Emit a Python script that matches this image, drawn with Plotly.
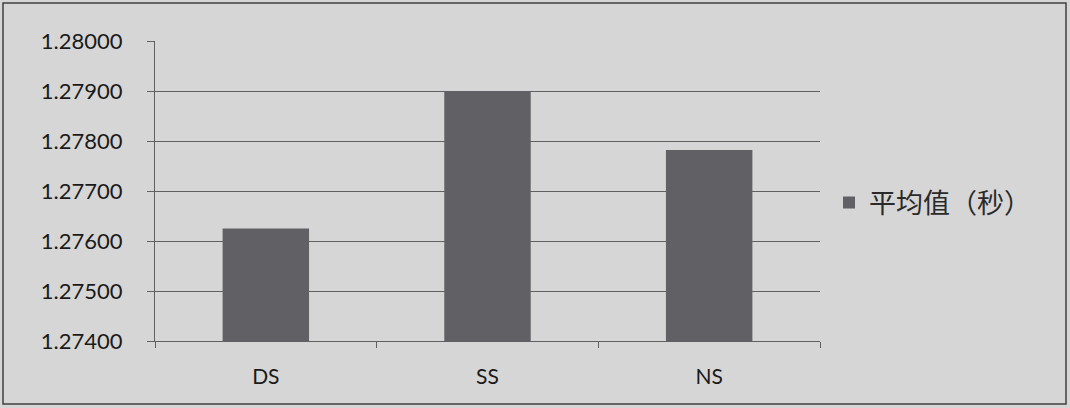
import plotly.graph_objects as go

categories = ["DS", "SS", "NS"]
mean_values = [1.27625, 1.27900, 1.27782]
y_ticks = [1.274, 1.275, 1.276, 1.277, 1.278, 1.279, 1.280]
y_tick_labels = ["1.27400", "1.27500", "1.27600", "1.27700", "1.27800", "1.27900", "1.28000"]
series_name = "平均值（秒）"

W, H = 1070, 408
ml, mr, mt, mb = 155, 250, 41, 67
pw, ph = W - ml - mr, H - mt - mb

fig = go.Figure()
fig.add_trace(go.Bar(
    x=categories, y=mean_values, name=series_name,
    marker=dict(color="#606065", line=dict(width=0)),
    showlegend=True,
))

fig.update_layout(
    width=W, height=H,
    margin=dict(l=ml, r=mr, t=mt, b=mb),
    paper_bgcolor="#d6d6d6", plot_bgcolor="#d6d6d6",
    bargap=0.61,
    showlegend=True,
    font=dict(family="Lato, Open Sans, sans-serif", size=22, color="#1a1a1a"),
    legend=dict(
        x=(829 - ml) / pw, y=(mt + ph - 203) / ph,
        xanchor="left", yanchor="middle",
        bgcolor="rgba(0,0,0,0)",
        font=dict(family="Noto Sans CJK SC", size=27, color="#2a2a2a"),
    ),
)

fig.update_xaxes(
    showline=True, linecolor="#606060", linewidth=1,
    ticks="outside", tickson="boundaries", ticklen=6, tickcolor="#606060",
    ticklabelstandoff=17,
    tickfont=dict(size=21),
    showgrid=False, zeroline=False,
)
fig.update_yaxes(
    range=[y_ticks[0], y_ticks[-1]],
    tickvals=y_ticks, ticktext=y_tick_labels,
    showline=True, linecolor="#606060", linewidth=1,
    ticks="outside", ticklen=7, tickcolor="#606060",
    ticklabelstandoff=20,
    showgrid=True, gridcolor="#606060", gridwidth=1,
    zeroline=False,
)

# outer frame of the chart area
fig.add_shape(
    type="rect", xref="paper", yref="paper",
    x0=(3 - ml) / pw, x1=(W - 4 - ml) / pw,
    y0=(mt + ph - (H - 4)) / ph, y1=(mt + ph - 3) / ph,
    line=dict(color="#404040", width=1.5), fillcolor="rgba(0,0,0,0)",
    layer="below",
)

fig.write_html("out.html", config={"displayModeBar": False})

# drop the default page margin so the figure sits at the window origin
with open("out.html", encoding="utf-8") as f:
    page = f.read()
page = page.replace("<body>", '<body style="margin:0">', 1)
with open("out.html", "w", encoding="utf-8") as f:
    f.write(page)
